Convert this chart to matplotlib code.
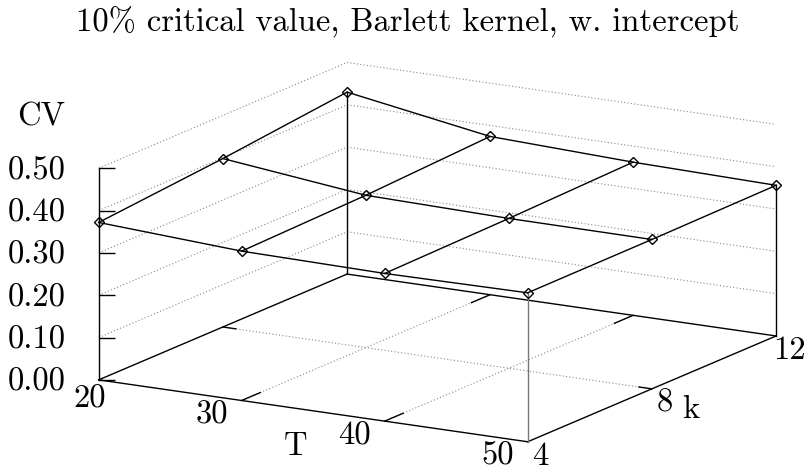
import numpy as np
import matplotlib
matplotlib.use("Agg")
import matplotlib.pyplot as plt
from mpl_toolkits.mplot3d import proj3d

plt.rcParams["font.family"] = "cmr10"
plt.rcParams["mathtext.fontset"] = "cm"
plt.rcParams["axes.unicode_minus"] = False
plt.rcParams["axes.formatter.use_mathtext"] = True

# datos
T = [20, 30, 40, 50]
k = [4, 8, 12]
cv_k4 = [0.372, 0.353, 0.349, 0.352]
cv_k8 = [0.398, 0.360, 0.354, 0.353]
cv_k12 = [0.430, 0.374, 0.362, 0.356]
cv_ticks = [0.0, 0.1, 0.2, 0.3, 0.4, 0.5]
cv_ticklabels = ["0.00", "0.10", "0.20", "0.30", "0.40", "0.50"]
title = "10% critical value, Barlett kernel, w. intercept"

cv = np.array([cv_k4, cv_k8, cv_k12])  # filas = k, columnas = T

fig = plt.figure(figsize=(8.07, 4.72), dpi=100)
ax = fig.add_axes([0.068, -0.3445, 0.923, 1.578], projection="3d",
                  proj_type="ortho", computed_zorder=False)
ax.view_init(elev=14.35, azim=-59.8)
ax.set_box_aspect((1, 0.995, 0.44), zoom=0.956)
ax.set_xlim(T[0], T[-1])
ax.set_ylim(k[0], k[-1])
ax.set_zlim(cv_ticks[0], cv_ticks[-1])
ax.set_axis_off()

t0, t1 = T[0], T[-1]
k0, k1 = k[0], k[-1]
z0, z1 = cv_ticks[0], cv_ticks[-1]

grid = dict(color="#888888", lw=0.8, linestyle=(0, (1, 2)), zorder=1)
edge = dict(color="black", lw=1.0, zorder=2)

# rejilla punteada en las paredes del fondo y en la base
for z in cv_ticks[1:]:
    ax.plot([t0, t0], [k0, k1], [z, z], **grid)
    ax.plot([t0, t1], [k1, k1], [z, z], **grid)
for t in T[1:-1]:
    ax.plot([t, t], [k0, k1], [z0, z0], **grid)
for kk in k[1:-1]:
    ax.plot([t0, t1], [kk, kk], [z0, z0], **grid)

# bordes de la base y eje vertical
ax.plot([t0, t1], [k0, k0], [z0, z0], **edge)
ax.plot([t1, t1], [k0, k1], [z0, z0], **edge)
ax.plot([t0, t0], [k0, k1], [z0, z0], **edge)
ax.plot([t0, t1], [k1, k1], [z0, z0], **edge)
ax.plot([t0, t0], [k0, k0], [z0, z1], **edge)

# marcas de los ejes
for t in T[1:-1]:
    ax.plot([t, t], [k0, k0 + 0.6], [z0, z0], **edge)
    ax.plot([t, t], [k1, k1 - 0.6], [z0, z0], **edge)
for kk in k[1:-1]:
    ax.plot([t1, t1 - 0.9], [kk, kk], [z0, z0], **edge)
    ax.plot([t0, t0 + 0.9], [kk, kk], [z0, z0], **edge)
ax.plot([t0] * len(cv_ticks), [k0] * len(cv_ticks), cv_ticks,
        linestyle="none", marker=1, markersize=11.5, color="black",
        markeredgewidth=1.0, zorder=2)

# lineas verticales en las esquinas
ax.plot([t0, t0], [k1, k1], [z0, cv[-1, 0]], **edge)
ax.plot([t1, t1], [k1, k1], [z0, cv[-1, -1]], **edge)
ax.plot([t1, t1], [k0, k0], [z0, cv[0, -1]], color="#777777", lw=1.0, zorder=2)

# malla de datos
for i, kk in enumerate(k):
    ax.plot(T, [kk] * len(T), cv[i], color="black", lw=1.0, zorder=3)
for j, t in enumerate(T):
    ax.plot([t] * len(k), k, cv[:, j], color="black", lw=1.0, zorder=3)
for i, kk in enumerate(k):
    ax.plot(T, [kk] * len(T), cv[i], linestyle="none", marker="D",
            markersize=5.6, markerfacecolor="none", markeredgecolor="black",
            markeredgewidth=1.0, zorder=4)

# textos: se proyecta el punto 3D y se coloca con un desplazamiento en pixeles
M = ax.get_proj()
fs = 23.5


def label(x, y, z, s, dx, dy, ha="center"):
    px, py, _ = proj3d.proj_transform(x, y, z, M)
    ax.annotate(s, xy=(px, py), xycoords="data", xytext=(dx, dy),
                textcoords="offset pixels", ha=ha, va="baseline",
                fontsize=fs)


for z, lab in zip(cv_ticks, cv_ticklabels):
    label(t0, k0, z, lab, -33, -11, ha="right")
for t in T:
    dx, dy = (-9, -28) if t == t0 else (-30, -23)
    label(t, k0, z0, str(t), dx, dy)
for kk in k:
    label(t1, kk, z0, str(kk), 13, -23)

label((t0 + t1) / 2, k0, z0, "T", -18, -44)
label(t1, k[1], z0, "k", 39, -29)
label(t0, k0, z1, "CV", -58, 43)

fig.text(407.5 / 807, 1 - 32 / 472, title, ha="center", va="baseline",
         fontsize=fs)

fig.savefig("out.png", dpi=100)
